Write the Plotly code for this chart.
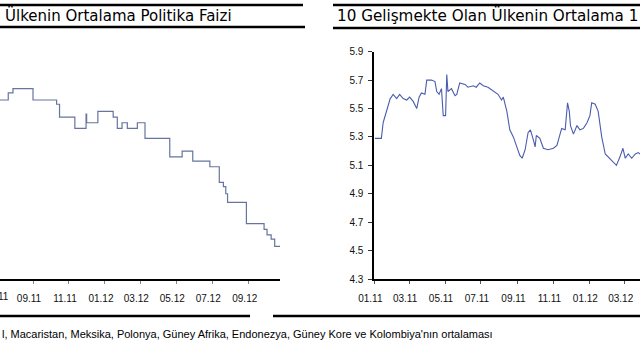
import plotly.graph_objects as go

# Left chart: average policy rate (step series)
policy_dates = ["2011-07-07", "2011-07-21", "2011-07-29", "2011-09-01", "2011-10-11", "2011-10-16",
                "2011-11-11", "2011-11-30", "2011-12-01", "2011-12-20", "2012-01-15", "2012-01-22",
                "2012-01-30", "2012-02-08", "2012-02-25", "2012-03-09", "2012-04-20", "2012-05-11",
                "2012-05-29", "2012-06-27", "2012-07-13", "2012-07-20", "2012-07-24", "2012-07-27",
                "2012-08-28", "2012-09-27", "2012-10-02", "2012-10-09", "2012-10-15", "2012-10-24"]
policy_vals = [6.26, 6.31, 6.34, 6.26, 6.23, 6.14,
               6.06, 6.16, 6.10, 6.18, 6.14, 6.06,
               6.10, 6.06, 6.10, 5.99, 5.86, 5.90,
               5.83, 5.79, 5.68, 5.65, 5.60, 5.54,
               5.39, 5.35, 5.31, 5.28, 5.23, 5.23]

# Right chart: average 1-year rate
rate_dates = ["2011-01-02", "2011-01-13", "2011-01-16", "2011-01-25", "2011-01-28", "2011-01-30",
              "2011-02-02", "2011-02-08", "2011-02-13", "2011-02-19", "2011-02-25", "2011-03-02",
              "2011-03-08", "2011-03-14", "2011-03-18", "2011-03-22", "2011-03-28", "2011-03-31",
              "2011-04-08", "2011-04-14", "2011-04-17", "2011-04-21", "2011-04-25", "2011-04-28",
              "2011-05-02", "2011-05-04", "2011-05-06", "2011-05-12", "2011-05-18", "2011-05-21",
              "2011-05-26", "2011-06-04", "2011-06-09", "2011-06-18", "2011-06-23", "2011-06-29",
              "2011-07-05", "2011-07-13", "2011-07-22", "2011-07-30", "2011-08-05", "2011-08-08",
              "2011-08-14", "2011-08-19", "2011-08-25", "2011-08-31", "2011-09-05", "2011-09-09",
              "2011-09-14", "2011-09-19", "2011-09-23", "2011-09-28", "2011-10-01", "2011-10-03",
              "2011-10-09", "2011-10-15", "2011-10-23", "2011-11-01", "2011-11-07", "2011-11-09",
              "2011-11-15", "2011-11-21", "2011-11-25", "2011-11-28", "2011-11-30", "2011-12-05",
              "2011-12-11", "2011-12-16", "2011-12-22", "2011-12-28", "2012-01-02", "2012-01-05",
              "2012-01-11", "2012-01-16", "2012-01-22", "2012-01-28", "2012-02-02", "2012-02-08",
              "2012-02-16", "2012-02-22", "2012-02-27", "2012-03-02", "2012-03-07", "2012-03-13",
              "2012-03-19", "2012-03-24", "2012-03-27", "2012-04-05"]
rate_vals = [5.29, 5.29, 5.40, 5.54, 5.57, 5.58,
             5.60, 5.57, 5.60, 5.57, 5.56, 5.58,
             5.55, 5.50, 5.58, 5.61, 5.60, 5.70,
             5.70, 5.69, 5.62, 5.60, 5.64, 5.45,
             5.45, 5.74, 5.62, 5.64, 5.59, 5.60,
             5.68, 5.67, 5.65, 5.66, 5.65, 5.68,
             5.66, 5.65, 5.62, 5.60, 5.56, 5.58,
             5.48, 5.35, 5.30, 5.23, 5.17, 5.15,
             5.21, 5.33, 5.35, 5.28, 5.23, 5.31,
             5.29, 5.22, 5.21, 5.22, 5.24, 5.27,
             5.36, 5.35, 5.54, 5.48, 5.38, 5.32,
             5.38, 5.35, 5.36, 5.40, 5.45, 5.54,
             5.53, 5.48, 5.30, 5.18, 5.16, 5.13,
             5.10, 5.16, 5.22, 5.15, 5.18, 5.15,
             5.18, 5.19, 5.18, 5.19]

yticks_right = [4.3, 4.5, 4.7, 4.9, 5.1, 5.3, 5.5, 5.7, 5.9]

title_left = "Ülkenin Ortalama Politika Faizi"
title_right = "10 Gelişmekte Olan Ülkenin Ortalama 1 Yıllık Faizi"
footnote = "l, Macaristan, Meksika, Polonya, Güney Afrika, Endonezya, Güney Kore ve Kolombiya'nın ortalaması"

W, H = 640, 360
def px(x):
    return x / W
def py(y):
    return 1 - y / H

fig = go.Figure()
fig.add_trace(go.Scatter(x=policy_dates, y=policy_vals, mode="lines", line_shape="hv",
                         line=dict(color="#66749f", width=1.2), xaxis="x", yaxis="y",
                         showlegend=False, hoverinfo="skip"))
fig.add_trace(go.Scatter(x=rate_dates, y=rate_vals, mode="lines",
                         line=dict(color="#4a5cae", width=1.1), xaxis="x2", yaxis="y2",
                         showlegend=False, hoverinfo="skip"))

tickfont = dict(family="Liberation Sans", size=10, color="#111")
ydom = [py(279), py(51.7)]

fig.update_layout(
    width=W, height=H, margin=dict(l=0, r=0, t=0, b=0, autoexpand=False),
    paper_bgcolor="white", plot_bgcolor="white",
    xaxis=dict(domain=[0, px(280)], type="date", range=["2011-07-07", "2012-10-24"],
               tick0="2011-09-01", dtick="M2", tickformat="%m.%y",
               showline=True, linecolor="black", linewidth=2, ticks="outside",
               ticklen=3, tickcolor="#888", tickwidth=1, showgrid=False, zeroline=False,
               tickfont=tickfont, ticklabelshift=-4, ticklabelstandoff=6, anchor="y",
               automargin=False),
    yaxis=dict(domain=ydom, range=[5.0, 6.6], visible=False, anchor="x"),
    xaxis2=dict(domain=[px(374.3), 1], type="date", range=["2011-01-01", "2012-03-27"],
                tick0="2011-01-01", dtick="M2", tickformat="%m.%y",
                showline=True, linecolor="black", linewidth=2, ticks="outside",
                ticklen=3, tickcolor="#555", tickwidth=1, showgrid=False, zeroline=False,
                tickfont=tickfont, ticklabelshift=-4, ticklabelstandoff=6, anchor="y2",
                automargin=False),
    yaxis2=dict(domain=ydom, range=[4.3, 5.9], tickvals=yticks_right,
                ticktext=[f"{v:.1f}" for v in yticks_right],
                showline=True, linecolor="black", linewidth=2, ticks="outside",
                ticklen=4, tickcolor="#333", showgrid=False, zeroline=False,
                tickfont=tickfont, anchor="x2", ticklabelstandoff=3, automargin=False),
)

# the "07.11" label cut by the left edge
fig.add_annotation(x=px(-4), y=py(296), xref="paper", yref="paper", text="07.11",
                   showarrow=False, xanchor="center", yanchor="middle", font=tickfont)

line_black = dict(color="black", width=2.5)
for x0, x1, y in [(0, 303, 5), (0, 305, 27), (333, 640, 5), (333, 640, 28), (0, 250, 316), (273, 640, 316)]:
    fig.add_shape(type="line", xref="paper", yref="paper", x0=px(x0), x1=px(x1),
                  y0=py(y), y1=py(y), line=line_black)

fig.add_annotation(x=px(3), y=py(16), xref="paper", yref="paper", text=title_left,
                   showarrow=False, xanchor="left", yanchor="middle",
                   font=dict(family="DejaVu Sans", size=15, color="black"))
fig.add_annotation(x=px(335), y=py(16), xref="paper", yref="paper", text=title_right,
                   showarrow=False, xanchor="left", yanchor="middle",
                   font=dict(family="DejaVu Sans", size=15.2, color="black"))
fig.add_annotation(x=px(0), y=py(334), xref="paper", yref="paper", text=footnote,
                   showarrow=False, xanchor="left", yanchor="middle",
                   font=dict(family="Liberation Sans", size=11, color="black"))

fig.write_html("out.html")
